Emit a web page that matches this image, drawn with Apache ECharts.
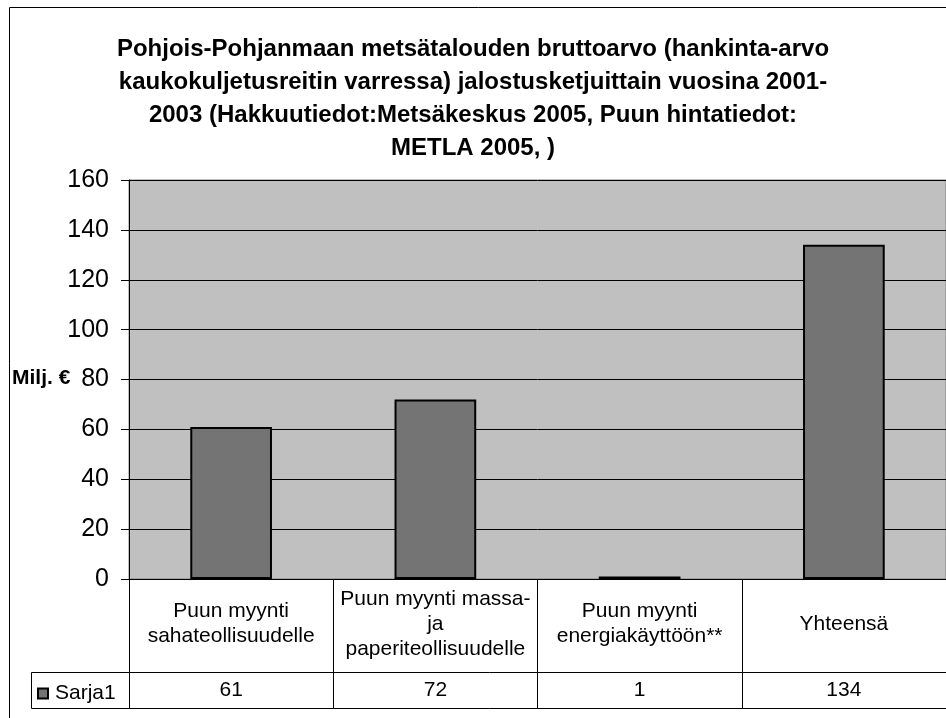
<!DOCTYPE html>
<html>
<head>
<meta charset="utf-8">
<script src="https://cdn.jsdelivr.net/npm/echarts@6/dist/echarts.min.js"></script>
<style>html,body{margin:0;padding:0;background:#fff;}#c{width:946px;height:718px;}</style>
</head>
<body>
<div id="c"></div>
<script>
const titleText = 'Pohjois-Pohjanmaan metsätalouden bruttoarvo (hankinta-arvo\nkaukokuljetusreitin varressa) jalostusketjuittain vuosina 2001-\n2003 (Hakkuutiedot:Metsäkeskus 2005, Puun hintatiedot:\nMETLA 2005, )';
const categories = ['Puun myynti\nsahateollisuudelle', 'Puun myynti massa-\nja\npaperiteollisuudelle', 'Puun myynti\nenergiakäyttöön**', 'Yhteensä'];
const seriesName = 'Sarja1';
const values = [61, 72, 1, 134];
const yTicks = { min: 0, max: 160, interval: 20 };
const yName = 'Milj. €';

const chart = echarts.init(document.getElementById('c'), null, { renderer: 'canvas' });
const FONT = 'Arial, "Liberation Sans", sans-serif';
chart.setOption({
  animation: false,
  backgroundColor: '#ffffff',
  title: {
    text: titleText,
    left: 'center',
    top: 28,
    textStyle: { fontFamily: FONT, fontSize: 24, fontWeight: 'bold', color: '#000', lineHeight: 33 }
  },
  legend: {
    data: [seriesName],
    left: 32,
    top: 678,
    itemWidth: 10,
    itemHeight: 10,
    itemGap: 4,
    icon: 'rect',
    textStyle: { fontFamily: FONT, fontSize: 21, color: '#000', padding: [0,0,0,2] }
  },
  grid: {
    left: 129, top: 180, width: 832, height: 399,
    show: true, backgroundColor: '#c0c0c0', borderColor: '#808080', borderWidth: 1
  },
  xAxis: [{
    type: 'category',
    data: categories,
    axisLine: { show: true, lineStyle: { color: '#000', width: 1 } },
    axisTick: { show: true, length: 129, lineStyle: { color: '#000', width: 1 } },
    axisLabel: { interval: 0, margin: 45, verticalAlign: 'middle', fontFamily: FONT, fontSize: 21, color: '#000', lineHeight: 25 },
    splitLine: { show: false }
  }, {
    type: 'category',
    position: 'bottom',
    data: values.map(String),
    axisLine: { show: false },
    axisTick: { show: false },
    axisLabel: { interval: 0, margin: 111, verticalAlign: 'middle', fontFamily: FONT, fontSize: 21, color: '#000' },
    splitLine: { show: false }
  }],
  yAxis: {
    type: 'value',
    min: yTicks.min, max: yTicks.max, interval: yTicks.interval,
    axisLine: { show: true, lineStyle: { color: '#000', width: 1 } },
    axisTick: { show: true, inside: false, length: 8, lineStyle: { color: '#000' } },
    axisLabel: { margin: 20, fontFamily: FONT, fontSize: 25, color: '#000' },
    splitLine: { show: true, lineStyle: { color: '#000', width: 1 } }
  },
  series: [{
    name: seriesName,
    type: 'bar',
    data: values,
    barWidth: '40%',
    itemStyle: { color: '#747474', borderColor: '#000', borderWidth: 2 }
  }],
  graphic: [
    { type: 'rect', shape: { x: 9.5, y: 7.5, width: 1000, height: 720 }, style: { fill: 'none', stroke: '#000', lineWidth: 1 }, silent: true },
    { type: 'rect', shape: { x: 31.5, y: 672.5, width: 1000, height: 36 }, style: { fill: 'none', stroke: '#000', lineWidth: 1 }, silent: true },
    { type: 'text', left: 12, top: 368, style: { text: yName, font: 'bold 21px ' + FONT, fill: '#000' }, silent: true }
  ]
});
</script>
</body>
</html>
